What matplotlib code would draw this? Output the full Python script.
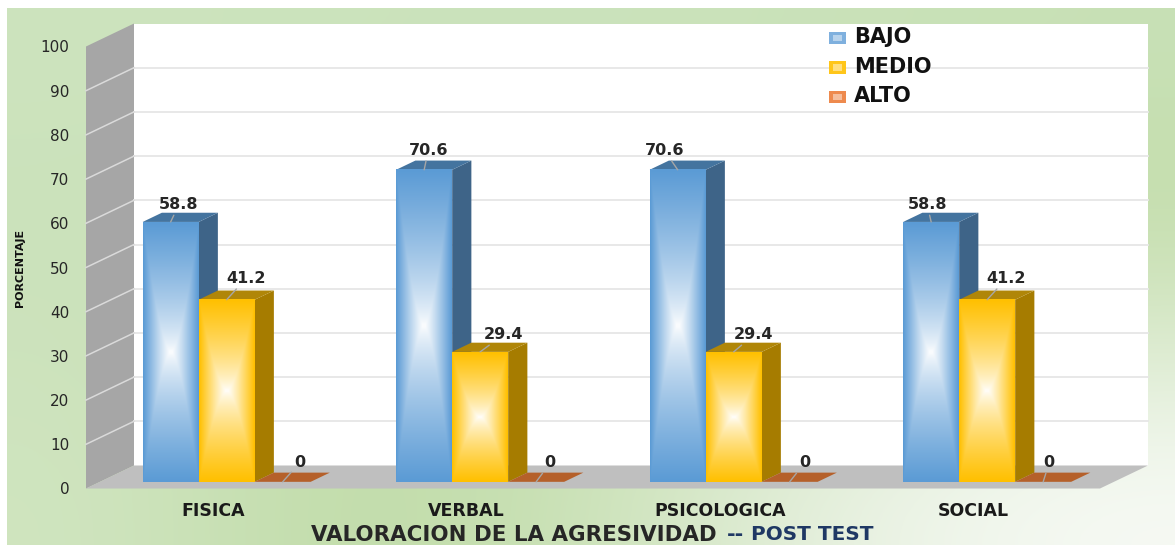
import numpy as np
from matplotlib import pyplot as plt
from matplotlib.colors import to_rgb
from matplotlib.legend_handler import HandlerBase
from matplotlib.patches import Patch, Rectangle

categories = ['FISICA', 'VERBAL', 'PSICOLOGICA', 'SOCIAL']
bajo = [58.8, 70.6, 70.6, 58.8]
medio = [41.2, 29.4, 29.4, 41.2]
alto = [0, 0, 0, 0]
series_names = ['BAJO', 'MEDIO', 'ALTO']
y_ticks = [0, 10, 20, 30, 40, 50, 60, 70, 80, 90, 100]

W, H = 1175, 546
# front plane of the fake 3d box, in pixels
LEFT, RIGHT, Y0, Y100 = 86, 1100, 488.5, 46.5
DX = 48 / ((RIGHT - LEFT) / 4)
DY = 23 / ((Y0 - Y100) / 100)
BAR_W = 56 / ((RIGHT - LEFT) / 4)
Z_FRONT, Z_BACK = 0.29, 0.69

# label offsets in pixels from the front top centre of each bar
blue_shift = [(8, 17), (4, 19), (-13, 19), (-4, 17)]
yellow_shift = [(19, 21), (23, 17), (20, 17), (19, 21)]
orange_shift = [(17, 19), (14, 19), (15, 19), (6, 19)]


def proj(x, y, z):
    return x + z * DX, y + z * DY


def poly(ax, pts, color, zorder):
    xs, ys = zip(*[proj(*p) for p in pts])
    ax.fill(xs, ys, color=color, lw=0, zorder=zorder, clip_on=False)


def gradient(edge, center, nx=60, ny=120):
    u = np.abs(np.linspace(-1, 1, nx))
    v = np.abs(np.linspace(-1, 1, ny))
    t = np.maximum(u[None, :] ** 1.6, v[:, None]) ** 0.72
    t = t[:, :, None]
    return np.array(to_rgb(edge)) * t + np.array(to_rgb(center)) * (1 - t)


def draw_bar(ax, x, v, shift, edge, center, side, top, zorder):
    x2 = x + BAR_W
    poly(ax, [(x2, 0, Z_FRONT), (x2, 0, Z_BACK), (x2, v, Z_BACK), (x2, v, Z_FRONT)], side, zorder)
    poly(ax, [(x, v, Z_FRONT), (x2, v, Z_FRONT), (x2, v, Z_BACK), (x, v, Z_BACK)], top, zorder)
    px, py = proj(x, 0, Z_FRONT)
    px2, _ = proj(x2, 0, Z_FRONT)
    _, py2 = proj(x, v, Z_FRONT)
    ax.imshow(gradient(edge, center), extent=(px, px2, py, py2), aspect='auto',
              interpolation='bilinear', zorder=zorder + 0.1, clip_on=False)
    label(ax, (px + px2) / 2, py2, v, shift)


def label(ax, x, y, v, shift):
    ax.annotate(f'{v:g}', xy=(x, y), xytext=shift, textcoords='offset pixels',
                ha='center', va='center', fontsize=11.5, fontweight='bold', color='#262626',
                arrowprops=dict(arrowstyle='-', color='#A6A6A6', lw=1, shrinkA=0, shrinkB=0),
                annotation_clip=False, zorder=12)


class SwatchHandler(HandlerBase):
    def create_artists(self, legend, orig, xd, yd, width, height, fontsize, trans):
        outer = Rectangle((xd, yd), width, height, fc=orig.get_facecolor(), lw=0, transform=trans)
        inner = Rectangle((xd + width * 0.25, yd + height * 0.25), width * 0.5, height * 0.5,
                          fc='white', alpha=0.45, lw=0, transform=trans)
        return [outer, inner]


fig = plt.figure(figsize=(W / 100, H / 100), dpi=100, facecolor='white')

# green backdrop
bg = fig.add_axes([7 / W, 1 / H, (W - 7) / W, 537 / H], zorder=0)
bg_colors = np.array([
    [to_rgb(c) for c in ('#CDE4BE', '#CBE3BC', '#CBE3BC', '#CAE2BA', '#C8E1B6')],
    [to_rgb(c) for c in ('#CBE2BB', '#C8E1B6', '#C6DFB1', '#C5DEAE', '#C3DDAA')],
    [to_rgb(c) for c in ('#CDE3BD', '#C3DDAB', '#C6DFB0', '#CFE4BF', '#DCEBD0')],
    [to_rgb(c) for c in ('#D0E5C0', '#BFDBA6', '#CBE2B8', '#E8F1E1', '#F7FAF5')],
])
bg.imshow(bg_colors, aspect='auto', interpolation='bicubic')
bg.axis('off')

ax = fig.add_axes([LEFT / W, 1 - Y0 / H, (RIGHT - LEFT) / W, (Y0 - Y100) / H], zorder=1)
ax.patch.set_visible(False)
for s in ax.spines.values():
    s.set_visible(False)

n = len(categories)
poly(ax, [(0, 0, 1), (n, 0, 1), (n, 100, 1), (0, 100, 1)], 'white', 1)
poly(ax, [(0, 0, 0), (0, 0, 1), (0, 100, 1), (0, 100, 0)], '#A6A6A6', 1)
poly(ax, [(0, 0, 0), (n, 0, 0), (n, 0, 1), (0, 0, 1)], '#BFBFBF', 1)

for t in y_ticks[1:-1]:
    xs, ys = zip(proj(0, t, 1), proj(n, t, 1))
    ax.plot(xs, ys, color='#E6E6E6', lw=1.3, zorder=2, clip_on=False)
    xs, ys = zip(proj(0, t, 0), proj(0, t, 1))
    ax.plot(xs, ys, color='#DADADA', lw=1.1, zorder=2, clip_on=False)

for i in range(n):
    x = i + 0.5 - 1.5 * BAR_W
    draw_bar(ax, x, bajo[i], blue_shift[i], '#5B9BD5', '#FFFFFF', '#3E6488', '#44749F', 3)
    draw_bar(ax, x + BAR_W, medio[i], yellow_shift[i], '#FFC000', '#FFFFFF', '#A67C00', '#B08608', 4)
    x3 = x + 2 * BAR_W
    poly(ax, [(x3, alto[i], Z_FRONT), (x3 + BAR_W, alto[i], Z_FRONT),
              (x3 + BAR_W, alto[i], Z_BACK), (x3, alto[i], Z_BACK)], '#B5602A', 5)
    lx, ly = proj(x3 + BAR_W / 2, alto[i], Z_FRONT)
    label(ax, lx, ly, alto[i], orange_shift[i])

ax.set_xlim(0, n)
ax.set_ylim(0, 100)
ax.set_xticks(np.arange(n) + 0.5)
ax.set_xticklabels(categories, fontsize=12.5, fontweight='bold', color='#1A1A1A')
ax.set_yticks(y_ticks)
ax.set_yticklabels(y_ticks, fontsize=11, color='#262626')
ax.tick_params(axis='x', length=0, pad=10)
ax.tick_params(axis='y', length=0, pad=12)

fig.text(20 / W, 1 - 268 / H, 'PORCENTAJE', rotation=90, ha='center', va='center',
         fontsize=8, fontweight='bold', color='#111111')
fig.text(311 / W, 1 - 535 / H, 'VALORACION DE LA AGRESIVIDAD', ha='left', va='center',
         fontsize=15.4, fontweight='bold', color='#262626')
fig.text(727 / W, 1 - 535 / H, '--', ha='left', va='center',
         fontsize=15, fontweight='bold', color='#1F3864')
fig.text(751 / W, 1 - 535 / H, 'POST TEST', ha='left', va='center',
         fontsize=14.4, fontweight='bold', color='#1F3864')

handles = [Patch(facecolor=c) for c in ('#7FB0DE', '#FFC61A', '#EE8A4E')]
ax.legend(handles, series_names, handler_map={Patch: SwatchHandler()}, frameon=False,
          loc='upper left', bbox_to_anchor=((829 - LEFT) / (RIGHT - LEFT), (Y0 - 27) / (Y0 - Y100)),
          borderaxespad=0, borderpad=0, handlelength=0.8, handleheight=0.55, handletextpad=0.4,
          labelspacing=0.46, prop={'size': 15, 'weight': 'bold'}, labelcolor='#111111').set_zorder(20)

fig.savefig('out.png', dpi=100)
